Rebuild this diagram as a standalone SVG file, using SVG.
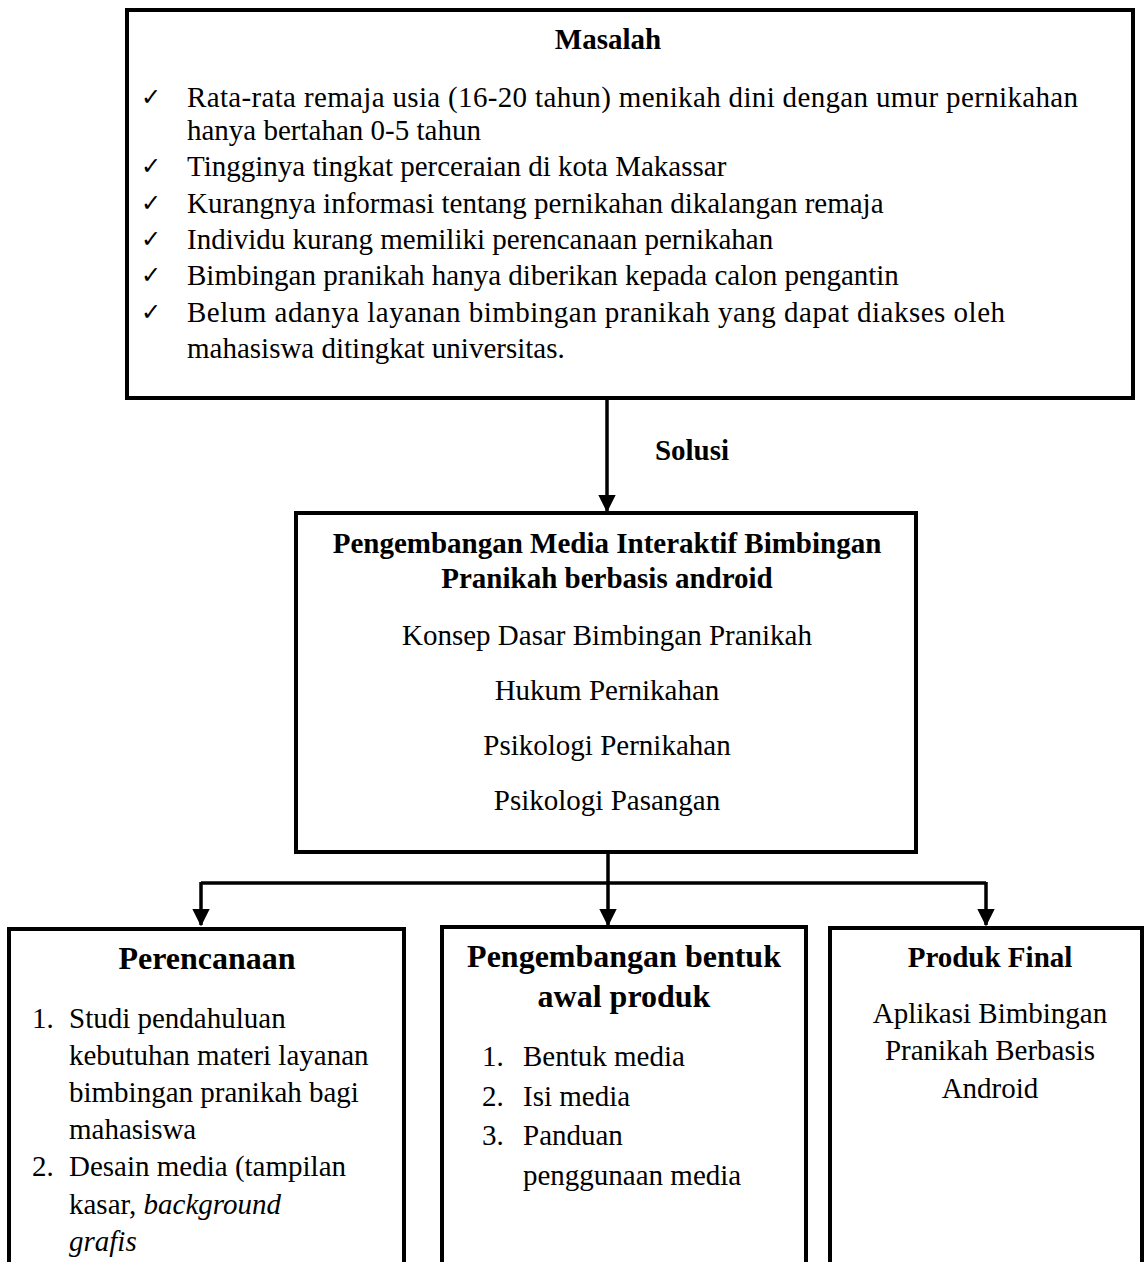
<svg xmlns="http://www.w3.org/2000/svg" width="1146" height="1262" viewBox="0 0 1146 1262">
<defs>
<style>
.box{fill:#fff;stroke:#000;stroke-width:4}
.t{font-family:'Liberation Serif','Times New Roman',serif;font-size:29px;fill:#000}
.b{font-weight:bold}
.c{text-anchor:middle}
.ck{font-family:'DejaVu Sans',sans-serif;font-size:24px;fill:#000}
.ln{fill:none;stroke:#000;stroke-width:3.5}
</style>
<marker id="ah" markerWidth="5" markerHeight="5" refX="4.6" refY="2.5" orient="auto" markerUnits="strokeWidth">
<path d="M0,0 L5,2.5 L0,5 Z" fill="#000"/>
</marker>
</defs>
<rect width="1146" height="1262" fill="#fff"/>
<g id="connectors">
<line class="ln" x1="607" y1="398" x2="607" y2="511" marker-end="url(#ah)"/>
<polyline class="ln" points="608,852 608,883"/>
<polyline class="ln" points="201,883 986,883"/>
<line class="ln" x1="201" y1="882" x2="201" y2="925" marker-end="url(#ah)"/>
<line class="ln" x1="608" y1="882" x2="608" y2="925" marker-end="url(#ah)"/>
<line class="ln" x1="986" y1="882" x2="986" y2="925" marker-end="url(#ah)"/>
<text class="t b" x="692" y="460" text-anchor="middle">Solusi</text>
</g>
<g id="masalah">
<rect class="box" x="127" y="10" width="1006" height="388"/>
<text class="t b c" x="608" y="49">Masalah</text>
<text class="ck" x="141" y="105">✓</text>
<text class="t" x="187" y="107" textLength="891" lengthAdjust="spacing">Rata-rata remaja usia (16-20 tahun) menikah dini dengan umur pernikahan</text>
<text class="t" x="187" y="140">hanya bertahan 0-5 tahun</text>
<text class="ck" x="141" y="174">✓</text>
<text class="t" x="187" y="176">Tingginya tingkat perceraian di kota Makassar</text>
<text class="ck" x="141" y="211">✓</text>
<text class="t" x="187" y="213">Kurangnya informasi tentang pernikahan dikalangan remaja</text>
<text class="ck" x="141" y="247">✓</text>
<text class="t" x="187" y="249">Individu kurang memiliki perencanaan pernikahan</text>
<text class="ck" x="141" y="283">✓</text>
<text class="t" x="187" y="285">Bimbingan pranikah hanya diberikan kepada calon pengantin</text>
<text class="ck" x="141" y="320">✓</text>
<text class="t" x="187" y="322" textLength="818" lengthAdjust="spacing">Belum adanya layanan bimbingan pranikah yang dapat diakses oleh</text>
<text class="t" x="187" y="358">mahasiswa ditingkat universitas.</text>
</g>
<g id="pengembangan-media">
<rect class="box" x="296" y="513" width="620" height="339"/>
<text class="t b c" x="607" y="553">Pengembangan Media Interaktif Bimbingan</text>
<text class="t b c" x="607" y="588">Pranikah berbasis android</text>
<text class="t c" x="607" y="645">Konsep Dasar Bimbingan Pranikah</text>
<text class="t c" x="607" y="700">Hukum Pernikahan</text>
<text class="t c" x="607" y="755">Psikologi Pernikahan</text>
<text class="t c" x="607" y="810">Psikologi Pasangan</text>
</g>
<g id="perencanaan">
<rect class="box" x="9" y="929" width="395" height="360"/>
<text class="t b c" x="207" y="969" style="font-size:32px">Perencanaan</text>
<text class="t" x="32" y="1028">1.</text>
<text class="t" x="69" y="1028">Studi pendahuluan</text>
<text class="t" x="69" y="1065">kebutuhan materi layanan</text>
<text class="t" x="69" y="1102">bimbingan pranikah bagi</text>
<text class="t" x="69" y="1139">mahasiswa</text>
<text class="t" x="32" y="1176">2.</text>
<text class="t" x="69" y="1176">Desain media (tampilan</text>
<text class="t" x="69" y="1214">kasar, <tspan font-style="italic">background</tspan></text>
<text class="t" x="69" y="1251" font-style="italic">grafis</text>
</g>
<g id="pengembangan-bentuk">
<rect class="box" x="442" y="927" width="364" height="360"/>
<text class="t b c" x="624" y="967" style="font-size:32px">Pengembangan bentuk</text>
<text class="t b c" x="624" y="1007" style="font-size:32px">awal produk</text>
<text class="t" x="482" y="1066">1.</text>
<text class="t" x="523" y="1066">Bentuk media</text>
<text class="t" x="482" y="1106">2.</text>
<text class="t" x="523" y="1106">Isi media</text>
<text class="t" x="482" y="1145">3.</text>
<text class="t" x="523" y="1145">Panduan</text>
<text class="t" x="523" y="1185">penggunaan media</text>
</g>
<g id="produk-final">
<rect class="box" x="830" y="928" width="312" height="360"/>
<text class="t b c" x="990" y="967">Produk Final</text>
<text class="t c" x="990" y="1023">Aplikasi Bimbingan</text>
<text class="t c" x="990" y="1060">Pranikah Berbasis</text>
<text class="t c" x="990" y="1098">Android</text>
</g>
</svg>
